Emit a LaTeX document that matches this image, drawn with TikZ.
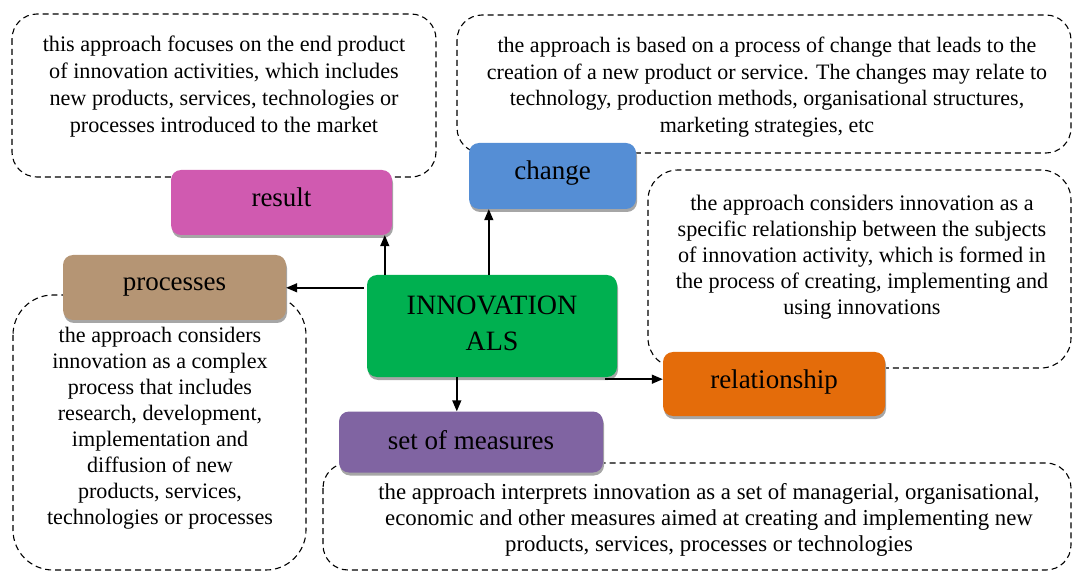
\documentclass[tikz,border=0pt]{standalone}
\usepackage{fontspec}
\setmainfont{Liberation Serif}
\usetikzlibrary{shadows,arrows.meta}
\definecolor{cres}{RGB}{208,90,176}
\definecolor{cproc}{RGB}{181,149,116}
\definecolor{cchg}{RGB}{85,142,213}
\definecolor{cinn}{RGB}{0,176,80}
\definecolor{crel}{RGB}{228,108,10}
\definecolor{cset}{RGB}{128,100,162}
\tikzset{
  x=1pt,y=-1pt,
  cbox/.style={rounded corners=10pt, inner sep=0pt,
    drop shadow={shadow xshift=1pt, shadow yshift=-3pt, fill=gray!70, opacity=1}},
  lbl/.style={inner sep=0pt, align=center, font=\fontsize{27}{36}\selectfont},
  dbox/.style={draw=black, dashed, dash pattern=on 6pt off 4pt, line width=1.1pt},
  desc/.style={align=center, inner sep=0pt},
  arr/.style={line width=1.5pt, -{Triangle[length=11pt,width=9pt]}},
}
\begin{document}
\begin{tikzpicture}
\useasboundingbox (0,0) rectangle (1072,572);
% dashed description boxes
\draw[dbox, rounded corners=25pt] (12,14) rectangle (436,177);
\draw[dbox, rounded corners=25pt] (457,15) rectangle (1071,153);
\draw[dbox, rounded corners=30pt] (648,170) rectangle (1071,368);
\draw[dbox, rounded corners=40pt] (13,295) rectangle (306,570);
\draw[dbox, rounded corners=25pt] (323,463) rectangle (1071,570);
% descriptions
\node[desc, font=\fontsize{22.2}{26.7}\selectfont] (t1) at (224,86.5) {this approach focuses on the end product\\of innovation activities, which includes\\new products, services, technologies or\\processes introduced to the market};
\node[desc, font=\fontsize{22}{26.5}\selectfont] (t2) at (767,87) {the approach is based on a process of change that leads to the\\creation of a new product or service. The changes may relate to\\technology, production methods, organisational structures,\\marketing strategies, etc};
\node[desc, font=\fontsize{22.2}{26}\selectfont] (t3) at (862,257) {the approach considers innovation as a\\specific relationship between the subjects\\of innovation activity, which is formed in\\the process of creating, implementing and\\using innovations};
\node[desc, font=\fontsize{22.1}{26}\selectfont] (t4) at (160,428.5) {the approach considers\\innovation as a complex\\process that includes\\research, development,\\implementation and\\diffusion of new\\products, services,\\technologies or processes};
\node[desc, font=\fontsize{22.8}{26}\selectfont] (t5) at (709,520) {the approach interprets innovation as a set of managerial, organisational,\\economic and other measures aimed at creating and implementing new\\products, services, processes or technologies};
% coloured boxes
\node[cbox, fill=cres, minimum width=221pt, minimum height=65pt,
  label={[lbl, yshift=5pt]center:result}] (res) at (281.5,202.5) {};
\node[cbox, fill=cproc, minimum width=223pt, minimum height=65pt,
  label={[lbl, yshift=0pt]center:processes}] (proc) at (174.5,287.5) {};
\node[cbox, fill=cchg, minimum width=167pt, minimum height=66pt,
  label={[lbl, yshift=3pt]center:change}] (chg) at (552.5,176) {};
\node[cbox, fill=cinn, minimum width=250pt, minimum height=102pt,
  label={[lbl, font=\fontsize{28}{36}\selectfont, yshift=3pt]center:INNOVATION\\ALS}] (inn) at (492,326) {};
\node[cbox, fill=crel, minimum width=222pt, minimum height=64pt,
  label={[lbl, yshift=2pt]center:relationship}] (rel) at (774,384) {};
\node[cbox, fill=cset, minimum width=264pt, minimum height=61pt,
  label={[lbl, yshift=2pt]center:set of measures}] (set) at (471,442) {};
% connectors
\coordinate (a1) at ([xshift=18pt]inn.north west);
\draw[arr] (a1) -- (a1 |- res.south);
\coordinate (a2) at ([xshift=122pt]inn.north west);
\draw[arr] (a2) -- (a2 |- chg.south);
\coordinate (a3) at ([xshift=-3pt,yshift=-13pt]inn.north west);
\draw[arr] (a3) -- (a3 -| proc.east);
\coordinate (a4) at ([xshift=90pt]inn.south west);
\draw[arr] (a4) -- (a4 |- set.north);
\coordinate (a5) at ([xshift=-12pt,yshift=-2pt]inn.south east);
\draw[arr] (a5) -- (a5 -| rel.west);
\end{tikzpicture}
\end{document}
